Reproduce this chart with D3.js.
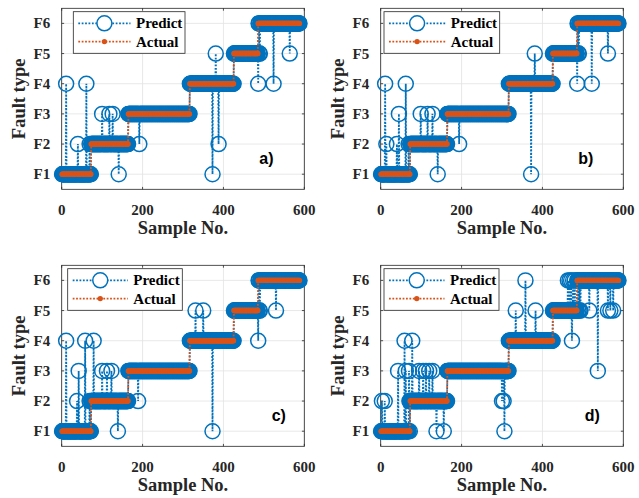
<!DOCTYPE html>
<html>
<head>
<meta charset="utf-8">
<script src="https://cdn.jsdelivr.net/npm/d3@7"></script>
<style>
  body { margin: 0; background: #fff; }
  svg { display: block; }
</style>
</head>
<body>
<svg id="chart" width="639" height="498"></svg>
<script>
const faultLabels = ['F1', 'F2', 'F3', 'F4', 'F5', 'F6']
const xTicks = [0, 200, 400, 600]
const sampleCount = 588
// first sample of each actual fault run
const actualStart = [1, 73, 165, 317, 426, 486]
const actualClass = [1, 2, 3, 4, 5, 6]

// misclassified samples: [sample, predicted class]
const errorsA = [[11, 4], [40, 2], [61, 4], [69, 2], [100, 3], [118, 3], [126, 3], [141, 1], [192, 2],
  [373, 1], [381, 5], [388, 2], [486, 4], [489, 5], [490, 5], [524, 4], [564, 5]]
const errorsB = [[11, 4], [14, 2], [40, 2], [45, 3], [62, 4], [69, 2], [99, 3], [116, 3], [128, 3], [141, 1],
  [194, 2], [372, 1], [381, 5], [486, 4], [489, 5], [490, 5], [522, 4], [562, 5]]
const errorsC = [[11, 4], [38, 2], [42, 3], [58, 4], [69, 2], [79, 4], [100, 3], [112, 3], [123, 3], [139, 1],
  [189, 2], [331, 5], [350, 5], [373, 1], [486, 4], [489, 5], [490, 5], [530, 5]]
const errorsD = [[3, 2], [10, 2], [43, 3], [59, 4], [62, 3], [70, 3], [71, 2], [78, 4], [95, 3], [105, 3],
  [112, 3], [120, 3], [128, 3], [138, 1], [156, 1], [300, 2], [304, 2], [306, 1], [334, 5], [358, 6],
  [383, 5], [463, 6], [467, 6], [471, 6], [473, 4], [476, 6], [480, 6], [489, 5], [492, 5], [494, 5],
  [516, 5], [537, 3], [562, 5], [568, 5], [575, 5]]

const panelLabels = ['a)', 'b)', 'c)', 'd)']
const panelErrors = [errorsA, errorsB, errorsC, errorsD]

const blue = '#0072BD'
const orange = '#D95319'
const axisColor = '#262626'
const serif = '"Liberation Serif", "Times New Roman", serif'

// layout of the four axes
const layout = [
  { x: 61.7, y: 8.3, legX: 73.3, legW: 111.7, labX: 197.6 },
  { x: 380.7, y: 8.3, legX: 384, legW: 115.7, labX: 197.6 },
  { x: 61.7, y: 265.3, legX: 67.7, legW: 114.6, labX: 210 },
  { x: 380.7, y: 265.3, legX: 384, legW: 115, labX: 204 },
]
const w = 242.6
const h = 181

// expand actual runs into per-sample classes
const actual = []
for (let s = 1; s <= sampleCount; s++) {
  let c = actualClass[0]
  actualStart.forEach((st, i) => { if (s >= st) c = actualClass[i] })
  actual.push({ s, c })
}

const svg = d3.select('#chart')

function drawPanel(idx) {
  const L = layout[idx]
  const errMap = new Map(panelErrors[idx].map(d => [d[0], d[1]]))
  const predict = actual.map(d => ({ s: d.s, c: errMap.has(d.s) ? errMap.get(d.s) : d.c }))

  const x = d3.scaleLinear().domain([0, 600]).range([0, w])
  const y = d3.scaleLinear().domain([0.5, 6.5]).range([h, 0])
  const g = svg.append('g').attr('transform', `translate(${L.x},${L.y})`)

  // grid
  g.append('g').selectAll('line').data(xTicks).enter().append('line')
    .attr('x1', d => x(d)).attr('x2', d => x(d)).attr('y1', 0).attr('y2', h)
    .attr('stroke', '#e2e2e2').attr('stroke-width', 0.8)
  g.append('g').selectAll('line').data(d3.range(1, 7)).enter().append('line')
    .attr('y1', d => y(d)).attr('y2', d => y(d)).attr('x1', 0).attr('x2', w)
    .attr('stroke', '#e2e2e2').attr('stroke-width', 0.8)

  // box and inward ticks
  g.append('rect').attr('width', w).attr('height', h)
    .attr('fill', 'none').attr('stroke', axisColor).attr('stroke-width', 0.8)
  const tk = 2.4
  xTicks.forEach(t => {
    g.append('line').attr('x1', x(t)).attr('x2', x(t)).attr('y1', h).attr('y2', h - tk).attr('stroke', axisColor).attr('stroke-width', 0.8)
    g.append('line').attr('x1', x(t)).attr('x2', x(t)).attr('y1', 0).attr('y2', tk).attr('stroke', axisColor).attr('stroke-width', 0.8)
  })
  d3.range(1, 7).forEach(t => {
    g.append('line').attr('x1', 0).attr('x2', tk).attr('y1', y(t)).attr('y2', y(t)).attr('stroke', axisColor).attr('stroke-width', 0.8)
    g.append('line').attr('x1', w).attr('x2', w - tk).attr('y1', y(t)).attr('y2', y(t)).attr('stroke', axisColor).attr('stroke-width', 0.8)
  })

  // tick labels
  g.append('g').selectAll('text').data(xTicks).enter().append('text')
    .attr('x', d => x(d)).attr('y', h + 26)
    .attr('text-anchor', 'middle')
    .attr('font-family', serif).attr('font-weight', 'bold').attr('font-size', 15)
    .attr('fill', axisColor)
    .text(d => d)
  g.append('g').selectAll('text').data(faultLabels).enter().append('text')
    .attr('x', -11.5).attr('y', (d, i) => y(i + 1)).attr('dy', '0.34em')
    .attr('text-anchor', 'end')
    .attr('font-family', serif).attr('font-weight', 'bold').attr('font-size', 15)
    .attr('fill', axisColor)
    .text(d => d)

  // axis labels
  g.append('text').attr('x', w / 2).attr('y', h + 44.5)
    .attr('text-anchor', 'middle')
    .attr('font-family', serif).attr('font-weight', 'bold').attr('font-size', 18.5)
    .attr('fill', axisColor)
    .text('Sample No.')
  g.append('text')
    .attr('transform', `translate(-42.5,${h / 2}) rotate(-90)`)
    .attr('text-anchor', 'middle').attr('dy', '0.34em')
    .attr('font-family', serif).attr('font-weight', 'bold').attr('font-size', 18.5)
    .attr('fill', axisColor)
    .text('Fault type')

  // predict series
  const line = d3.line().x(d => x(d.s)).y(d => y(d.c))
  g.append('path').datum(predict)
    .attr('d', line).attr('fill', 'none')
    .attr('stroke', blue).attr('stroke-width', 1.8).attr('stroke-dasharray', '1.8,1.6')
  g.append('g').selectAll('circle').data(predict).enter().append('circle')
    .attr('cx', d => x(d.s)).attr('cy', d => y(d.c)).attr('r', 7.5)
    .attr('fill', 'none').attr('stroke', blue).attr('stroke-width', 1.5)

  // actual series
  g.append('path').datum(actual)
    .attr('d', line).attr('fill', 'none')
    .attr('stroke', orange).attr('stroke-width', 1.8).attr('stroke-dasharray', '1.8,1.6')
  g.append('g').selectAll('circle').data(actual).enter().append('circle')
    .attr('cx', d => x(d.s)).attr('cy', d => y(d.c)).attr('r', 2.7)
    .attr('fill', orange)

  // panel label
  g.append('text').attr('x', L.labX).attr('y', h - 25.5)
    .attr('font-family', '"Liberation Sans", Arial, sans-serif').attr('font-weight', 'bold').attr('font-size', 16)
    .attr('fill', '#000')
    .text(panelLabels[idx])

  // legend
  const lg = svg.append('g').attr('transform', `translate(${L.legX},${L.y + 3.4})`)
  lg.append('rect').attr('width', L.legW).attr('height', 41.6)
    .attr('fill', '#fff').attr('stroke', axisColor).attr('stroke-width', 0.8)
  const items = [
    { name: 'Predict', color: blue, marker: 'circle' },
    { name: 'Actual', color: orange, marker: 'dot' },
  ]
  const textX = L.legW - 49
  items.forEach((it, i) => {
    const cy = 11.6 + i * 18.3
    lg.append('line').attr('x1', 5).attr('x2', textX - 5.5).attr('y1', cy).attr('y2', cy)
      .attr('stroke', it.color).attr('stroke-width', 1.8).attr('stroke-dasharray', '1.8,1.6')
    const mx = (5 + textX - 5.5) / 2
    if (it.marker === 'circle') {
      lg.append('circle').attr('cx', mx).attr('cy', cy).attr('r', 7.5)
        .attr('fill', '#fff').attr('stroke', it.color).attr('stroke-width', 1.5)
    } else {
      lg.append('circle').attr('cx', mx).attr('cy', cy).attr('r', 2.7).attr('fill', it.color)
    }
    lg.append('text').attr('x', textX).attr('y', cy).attr('dy', '0.34em')
      .attr('font-family', serif).attr('font-weight', 'bold').attr('font-size', 15)
      .attr('fill', '#000')
      .text(it.name)
  })
}

d3.range(4).forEach(drawPanel)
</script>
</body>
</html>
